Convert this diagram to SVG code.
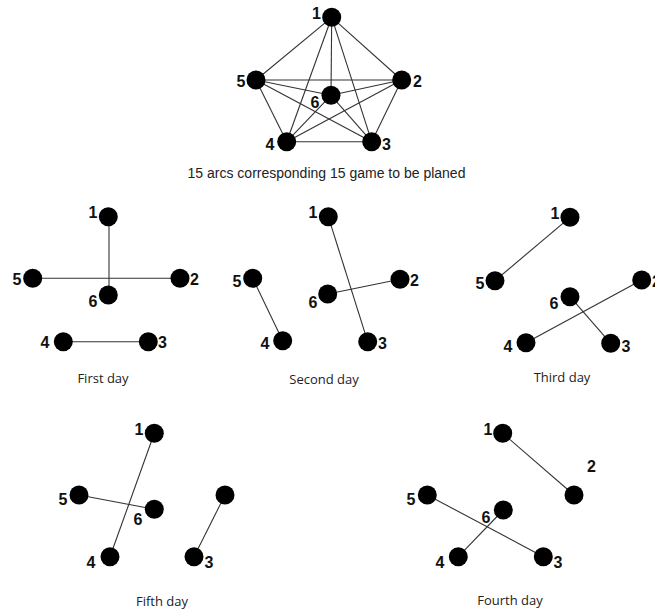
<svg xmlns="http://www.w3.org/2000/svg" width="655" height="612" viewBox="0 0 655 612">
<style>
.n{fill:#000}
.e{stroke:#333;stroke-width:1.1;fill:none}
.l{font-family:"Liberation Sans",Arial,sans-serif;font-weight:bold;font-size:16px;fill:#111}
.c{font-family:"Liberation Sans",Arial,sans-serif;font-size:14px;fill:#222}
.d{font-family:"Open Sans","Liberation Sans",sans-serif;font-size:13px;fill:#222}
</style>
<rect width="655" height="612" fill="#fff"/>
<g id="connectors">
<g id="complete-edges">
<line class="e" x1="331.7" y1="17.3" x2="401.7" y2="80"/>
<line class="e" x1="331.7" y1="17.3" x2="371.7" y2="141.7"/>
<line class="e" x1="331.7" y1="17.3" x2="286.7" y2="141.7"/>
<line class="e" x1="331.7" y1="17.3" x2="256" y2="80"/>
<line class="e" x1="331.7" y1="17.3" x2="331" y2="95.3"/>
<line class="e" x1="401.7" y1="80" x2="371.7" y2="141.7"/>
<line class="e" x1="401.7" y1="80" x2="286.7" y2="141.7"/>
<line class="e" x1="401.7" y1="80" x2="256" y2="80"/>
<line class="e" x1="401.7" y1="80" x2="331" y2="95.3"/>
<line class="e" x1="371.7" y1="141.7" x2="286.7" y2="141.7"/>
<line class="e" x1="371.7" y1="141.7" x2="256" y2="80"/>
<line class="e" x1="371.7" y1="141.7" x2="331" y2="95.3"/>
<line class="e" x1="286.7" y1="141.7" x2="256" y2="80"/>
<line class="e" x1="286.7" y1="141.7" x2="331" y2="95.3"/>
<line class="e" x1="256" y1="80" x2="331" y2="95.3"/>
</g>
<g id="day1-edges">
<line class="e" x1="109" y1="216.7" x2="109" y2="295"/>
<line class="e" x1="32.7" y1="278.3" x2="180" y2="278.3"/>
<line class="e" x1="63.3" y1="341.7" x2="148.3" y2="341.7"/>
</g>
<g id="day2-edges">
<line class="e" x1="328.3" y1="216.7" x2="367.7" y2="341.7"/>
<line class="e" x1="327.7" y1="294" x2="400" y2="279.3"/>
<line class="e" x1="252.7" y1="278.3" x2="282.7" y2="340.7"/>
</g>
<g id="day3-edges">
<line class="e" x1="570" y1="217.3" x2="495" y2="280.7"/>
<line class="e" x1="526" y1="342.7" x2="641.7" y2="280"/>
<line class="e" x1="570" y1="296.7" x2="610.7" y2="343.3"/>
</g>
<g id="day5-edges">
<line class="e" x1="154.3" y1="433.3" x2="110" y2="556.7"/>
<line class="e" x1="79" y1="495" x2="154.3" y2="509.3"/>
<line class="e" x1="225" y1="495" x2="194" y2="556.7"/>
</g>
<g id="day4-edges">
<line class="e" x1="502.7" y1="433.3" x2="574" y2="495"/>
<line class="e" x1="427.3" y1="495" x2="543.3" y2="556.7"/>
<line class="e" x1="503.3" y1="510" x2="458.3" y2="556.7"/>
</g>
</g>

<g id="k1"><circle class="n" cx="331.7" cy="17.3" r="9.5"/><text class="l" x="321" y="19" text-anchor="end">1</text></g>
<g id="k2"><circle class="n" cx="401.7" cy="80" r="9.5"/><text class="l" x="413" y="87">2</text></g>
<g id="k3"><circle class="n" cx="371.7" cy="141.7" r="9.5"/><text class="l" x="382" y="150">3</text></g>
<g id="k4"><circle class="n" cx="286.7" cy="141.7" r="9.5"/><text class="l" x="274.5" y="150" text-anchor="end">4</text></g>
<g id="k5"><circle class="n" cx="256" cy="80" r="9.5"/><text class="l" x="245.5" y="87" text-anchor="end">5</text></g>
<g id="k6"><circle class="n" cx="331" cy="95.3" r="9.5"/><text class="l" x="319.5" y="108" text-anchor="end">6</text></g>
<text class="c" x="326.5" y="178" text-anchor="middle">15 arcs corresponding 15 game to be planed</text>

<g id="d1-1"><circle class="n" cx="108.3" cy="216.7" r="9.5"/><text class="l" x="97.5" y="218" text-anchor="end">1</text></g>
<g id="d1-2"><circle class="n" cx="180" cy="278.3" r="9.5"/><text class="l" x="190" y="285">2</text></g>
<g id="d1-3"><circle class="n" cx="148.3" cy="341.7" r="9.5"/><text class="l" x="158" y="348">3</text></g>
<g id="d1-4"><circle class="n" cx="63.3" cy="341.7" r="9.5"/><text class="l" x="49.5" y="348" text-anchor="end">4</text></g>
<g id="d1-5"><circle class="n" cx="32.7" cy="278.3" r="9.5"/><text class="l" x="21.5" y="285" text-anchor="end">5</text></g>
<g id="d1-6"><circle class="n" cx="108.3" cy="295" r="9.5"/><text class="l" x="97.5" y="307" text-anchor="end">6</text></g>
<text class="d" x="103" y="383" text-anchor="middle">First day</text>

<g id="d2-1"><circle class="n" cx="328.3" cy="216.7" r="9.5"/><text class="l" x="317.5" y="218" text-anchor="end">1</text></g>
<g id="d2-2"><circle class="n" cx="400" cy="279.3" r="9.5"/><text class="l" x="410" y="286">2</text></g>
<g id="d2-3"><circle class="n" cx="367.7" cy="341.7" r="9.5"/><text class="l" x="378" y="349">3</text></g>
<g id="d2-4"><circle class="n" cx="282.7" cy="340.7" r="9.5"/><text class="l" x="269.5" y="349" text-anchor="end">4</text></g>
<g id="d2-5"><circle class="n" cx="252.7" cy="278.3" r="9.5"/><text class="l" x="241.5" y="287" text-anchor="end">5</text></g>
<g id="d2-6"><circle class="n" cx="327.7" cy="294" r="9.5"/><text class="l" x="317.5" y="308" text-anchor="end">6</text></g>
<text class="d" x="324" y="384" text-anchor="middle">Second day</text>

<g id="d3-1"><circle class="n" cx="570" cy="217.3" r="9.5"/><text class="l" x="559.5" y="219" text-anchor="end">1</text></g>
<g id="d3-2"><circle class="n" cx="641.7" cy="280" r="9.5"/><text class="l" x="652" y="287">2</text></g>
<g id="d3-3"><circle class="n" cx="610.7" cy="343.3" r="9.5"/><text class="l" x="621.5" y="352">3</text></g>
<g id="d3-4"><circle class="n" cx="526" cy="342.7" r="9.5"/><text class="l" x="512.5" y="352" text-anchor="end">4</text></g>
<g id="d3-5"><circle class="n" cx="495" cy="280.7" r="9.5"/><text class="l" x="484.5" y="289" text-anchor="end">5</text></g>
<g id="d3-6"><circle class="n" cx="570" cy="296.7" r="9.5"/><text class="l" x="558.5" y="309" text-anchor="end">6</text></g>
<text class="d" x="562" y="382" text-anchor="middle">Third day</text>

<g id="d5-1"><circle class="n" cx="154.3" cy="433.3" r="9.5"/><text class="l" x="143.5" y="435" text-anchor="end">1</text></g>
<g id="d5-2"><circle class="n" cx="225" cy="495" r="9.5"/></g>
<g id="d5-3"><circle class="n" cx="194" cy="556.7" r="9.5"/><text class="l" x="204.5" y="568">3</text></g>
<g id="d5-4"><circle class="n" cx="110" cy="556.7" r="9.5"/><text class="l" x="95.5" y="568" text-anchor="end">4</text></g>
<g id="d5-5"><circle class="n" cx="79" cy="495" r="9.5"/><text class="l" x="67.5" y="505" text-anchor="end">5</text></g>
<g id="d5-6"><circle class="n" cx="154.3" cy="509.3" r="9.5"/><text class="l" x="142.5" y="525" text-anchor="end">6</text></g>
<text class="d" x="162" y="606" text-anchor="middle">Fifth day</text>

<g id="d4-1"><circle class="n" cx="502.7" cy="433.3" r="9.5"/><text class="l" x="492.5" y="435" text-anchor="end">1</text></g>
<g id="d4-2"><circle class="n" cx="574" cy="495" r="9.5"/><text class="l" x="587" y="472">2</text></g>
<g id="d4-3"><circle class="n" cx="543.3" cy="556.7" r="9.5"/><text class="l" x="553.5" y="568">3</text></g>
<g id="d4-4"><circle class="n" cx="458.3" cy="556.7" r="9.5"/><text class="l" x="444.5" y="568" text-anchor="end">4</text></g>
<g id="d4-5"><circle class="n" cx="427.3" cy="495" r="9.5"/><text class="l" x="415.5" y="505" text-anchor="end">5</text></g>
<g id="d4-6"><circle class="n" cx="503.3" cy="510" r="9.5"/><text class="l" x="490.5" y="523" text-anchor="end">6</text></g>
<text class="d" x="510" y="605" text-anchor="middle">Fourth day</text>
</svg>
